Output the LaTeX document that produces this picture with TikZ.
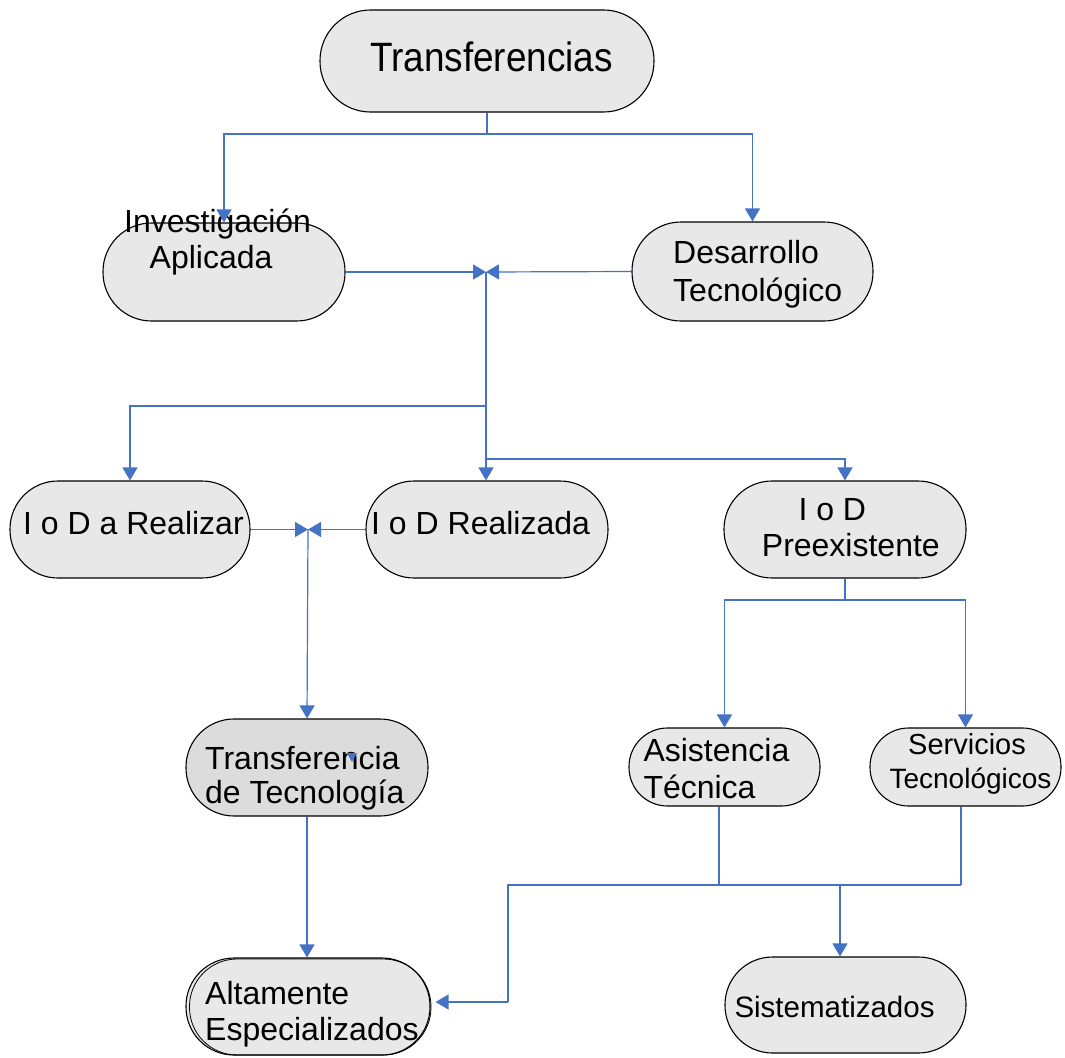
\documentclass[tikz,border=0pt]{standalone}
\usepackage{fontspec}
\usepackage{graphicx}
\setmainfont{Liberation Sans}
\usetikzlibrary{arrows.meta}
\definecolor{lnk}{HTML}{4472C4}
\definecolor{boxg}{HTML}{E8E8E8}
\definecolor{boxd}{HTML}{DCDCDC}
\begin{document}
\begin{tikzpicture}[x=1pt,y=-1pt,
  box/.style={draw=black, line width=1.1pt, fill=boxg, rounded corners=#1, inner sep=0pt},
  lbl/.style={inner sep=0pt, font=\fontsize{32}{38}\selectfont, text=black},
  conn/.style={draw=lnk, line width=1.2pt},
  arr/.style={conn, -{Triangle[length=13pt,width=15pt]}}]
\useasboundingbox (0,0) rectangle (1065,1057);
\fill[white] (0,0) rectangle (1065,1057);

% boxes
\node[box=50.5pt, minimum width=334pt, minimum height=102pt] (tr) at (487,61) {};
\node[box=48.5pt, minimum width=242pt, minimum height=98pt] (ia) at (224,272) {};
\node[box=49pt, minimum width=241pt, minimum height=99pt] (dt) at (752.5,271.5) {};
\node[box=48pt, minimum width=240pt, minimum height=97pt] (iar) at (130,529.5) {};
\node[box=48pt, minimum width=242pt, minimum height=97pt] (iodr) at (487,529.5) {};
\node[box=48pt, minimum width=242pt, minimum height=97pt] (iodp) at (845,529.5) {};
\node[box=48pt, fill=boxd, minimum width=242pt, minimum height=97pt] (tt) at (307,767.5) {};
\node[box=38.5pt, minimum width=191pt, minimum height=78pt] (as) at (724.5,767) {};
\node[box=38.5pt, minimum width=191pt, minimum height=78pt] (sv) at (965.5,767) {};
\node[box=48pt, minimum width=244pt, minimum height=97pt] (ae) at (308,1006.5) {};
\draw[black, line width=0.8pt, rounded corners=47.5pt] (189.5,959) rectangle (431,1055);
\node[box=47.5pt, minimum width=241pt, minimum height=96pt] (si) at (845.5,1005) {};

% texts
\node[lbl, anchor=base west, font=\fontsize{41}{48}\selectfont] (ttr) at (370,71.7) {\scalebox{0.9}[1]{Transferencias}};
\node[lbl, anchor=base west] (tia1) at (124,232) {Investigación};
\node[lbl, anchor=base west] (tia2) at (149.5,268) {Aplicada};
\node[lbl, anchor=base west] (tdt1) at (673,263) {Desarrollo};
\node[lbl, anchor=base west] (tdt2) at (673,301) {Tecnológico};
\node[lbl, anchor=base west] (tiar) at (23,534.3) {I o D a Realizar};
\node[lbl, anchor=base west] (tiodr) at (371,534.3) {I o D Realizada};
\node[lbl, anchor=base west] (tiodp1) at (798.3,520) {I o D};
\node[lbl, anchor=base west] (tiodp2) at (761.7,556) {Preexistente};
\node[lbl, anchor=base west] (ttt1) at (205,769.3) {Transferencia};
\node[lbl, anchor=base west] (ttt2) at (205,803.3) {de Tecnología};
\node[lbl, anchor=base west] (tas1) at (643.3,761.7) {Asistencia};
\node[lbl, anchor=base west] (tas2) at (643.3,798.3) {Técnica};
\node[lbl, anchor=base, font=\fontsize{29}{34}\selectfont] (tsv1) at (967,754.3) {Servicios};
\node[lbl, anchor=base, font=\fontsize{28}{33}\selectfont] (tsv2) at (970.5,788.3) {Tecnológicos};
\node[lbl, anchor=base west] (tae1) at (205,1004) {Altamente};
\node[lbl, anchor=base west] (tae2) at (205,1040) {Especializados};
\node[lbl, anchor=base west, font=\fontsize{29.5}{35}\selectfont] (tsi) at (734.3,1017.3) {Sistematizados};

% junction coordinates
\coordinate (j1) at (487,134);
\coordinate (j2) at (486,272);
\coordinate (j3) at (486,406);
\coordinate (j4) at (486,459);
\coordinate (j5) at (308,529.5);
\coordinate (j6) at (845,600);
\coordinate (k1) at (719,885);
\coordinate (k2) at (961,885);
\coordinate (k3) at (508,885);
\coordinate (k4) at (840,885);
\coordinate (k5) at (508,1002);

% connectors
\draw[conn] (tr.south) -- (j1);
\draw[arr] (j1) -| (ia.north);
\draw[arr] (j1) -| (dt.north);
\draw[arr] (ia.east) -- (j2);
\draw[arr] (dt.west) -- (j2);
\draw[arr] (j2) -- (j2 |- iodr.north);
\draw[arr] (j3) -| (iar.north);
\draw[arr] (j4) -| (iodp.north);
\draw[arr] (iar.east) -- (j5);
\draw[arr] (iodr.west) -- (j5);
\draw[arr] (j5) -- (tt.north);
\draw[arr] (tt.south) -- (tt.south |- ae.north);
\draw[conn] (iodp.south) -- (j6);
\draw[arr] (j6) -| (as.north);
\draw[arr] (j6) -| (sv.north);
\draw[conn] ([xshift=-5.5pt]as.south) -- (k1);
\draw[conn] ([xshift=-4.5pt]sv.south) -- (k2);
\draw[conn] (k2) -- (k3) -- (k5);
\draw[arr, shorten >=5pt] (k5) -- (ae.east |- k5);
\draw[arr] (k4) -- (k4 |- si.north);

% stray arrowhead inside Transferencia de Tecnologia
\fill[lnk] (347,753) -- (357,753) -- (352,762) -- cycle;
\end{tikzpicture}
\end{document}
